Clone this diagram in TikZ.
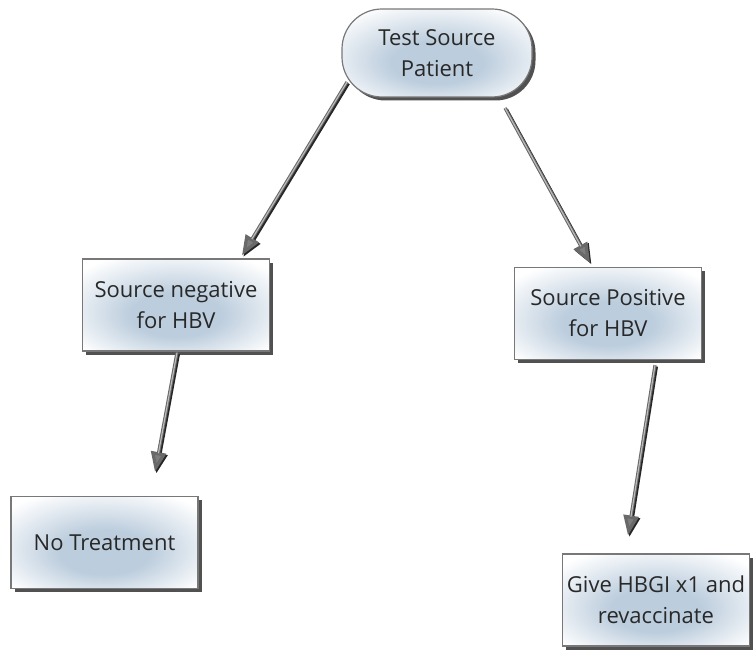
\documentclass[tikz,border=0pt]{standalone}
\usepackage{fontspec}
\setmainfont{Open Sans}
\usetikzlibrary{arrows.meta,shadows,calc}

\definecolor{glowc}{RGB}{188,205,221}
\definecolor{edgec}{RGB}{120,120,120}
\definecolor{inkc}{RGB}{40,40,40}
\definecolor{shaftdark}{RGB}{105,105,105}
\definecolor{shaftlight}{RGB}{190,190,190}
\definecolor{headc}{RGB}{125,125,125}

% soft bluish glow in the middle of each box, fading to white at the rim
\pgfdeclareradialshading{boxglow}{\pgfpoint{0bp}{-7bp}}{%
  color(0bp)=(glowc); color(12bp)=(glowc); color(33bp)=(white); color(50bp)=(white)}

\tikzset{
  boxbase/.style={draw=edgec, line width=1.2pt, shade, shading=boxglow,
    text=inkc, align=center, font=\fontsize{22}{31}\selectfont,
    drop shadow={shadow xshift=3.5pt, shadow yshift=-3.5pt, fill=black!80, opacity=0.85}},
  stepbox/.style={boxbase, rectangle, minimum width=187pt, minimum height=92pt, inner sep=2pt},
  pill/.style={boxbase, rectangle, rounded corners=40pt, minimum width=190pt, minimum height=88pt},
  conn/.style={
    preaction={draw=black!85, line width=3.2pt,
      -{Triangle[length=20pt,width=15pt]},
      transform canvas={shift={(1.4pt,-1.4pt)}}},
    draw=shaftdark, line width=3.2pt,
    -{Triangle[length=20pt,width=15pt,fill=headc]},
    postaction={draw=shaftlight, line width=1.1pt, arrows=-, shorten >=19pt}},
}

\begin{document}
\begin{tikzpicture}[x=1pt,y=-1pt]
  \useasboundingbox (0,0) rectangle (754,655);

  \node[pill]    (top)  at (437,53)    {Test Source\\Patient};
  \node[stepbox] (neg)  at (176,305)   {Source negative\\for HBV};
  \node[stepbox] (pos)  at (608,313.5) {Source Positive\\for HBV};
  \node[stepbox] (notr) at (104.5,542.5) {No Treatment};
  \node[stepbox] (hbgi) at (656,600)   {Give HBGI x1 and\\revaccinate};

  \draw[conn] ($(top.center)+(-90,29)$) -- ($(neg.north)+(66,-3)$);
  \draw[conn] ($(top.center)+(68,55)$)  -- ($(pos.north)+(-18,-4)$);
  \draw[conn] ($(neg.south)+(1,1)$)     -- ($(notr.north)+(50.5,-24)$);
  \draw[conn] ($(pos.south)+(47,5)$)    -- ($(hbgi.north)+(-28,-18)$);
\end{tikzpicture}
\end{document}
